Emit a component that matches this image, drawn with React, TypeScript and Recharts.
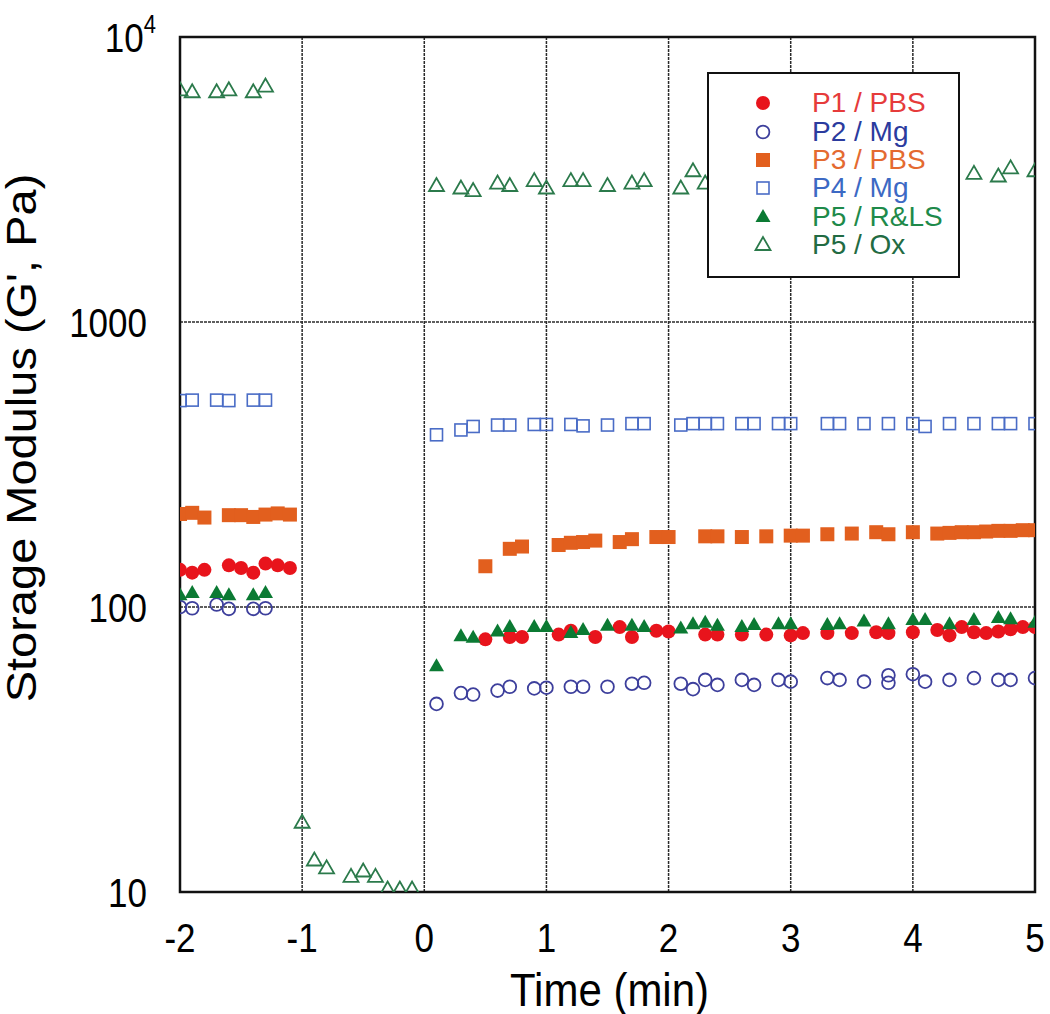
import {
  CartesianGrid,
  Label,
  ReferenceArea,
  Scatter,
  ScatterChart,
  XAxis,
  YAxis,
} from 'recharts'

const font = "'Liberation Sans', Arial, Helvetica, sans-serif"

// time axis and G' axis
const timeTicks = [-2, -1, 0, 1, 2, 3, 4, 5]
const modulusTicks = [10, 100, 1000, 10000]

// P1 / PBS
const p1Time = [-2.0, -1.9, -1.8, -1.6, -1.5, -1.4, -1.3, -1.2, -1.1, 0.5, 0.7, 0.8, 1.1, 1.2, 1.4, 1.6, 1.7, 1.9, 2.0, 2.3, 2.4, 2.6, 2.8, 3.0, 3.1, 3.3, 3.5, 3.7, 3.8, 4.0, 4.2, 4.3, 4.4, 4.5, 4.6, 4.7, 4.8, 4.9, 5.0]
const p1G = [135, 132, 135, 140, 137, 132, 142, 140, 137, 77, 78.5, 78.5, 80, 82.5, 78.5, 85, 78.5, 82.5, 82, 80, 80, 80, 80, 79.5, 81, 81, 81, 81.5, 81, 81.5, 83, 79.5, 85, 81.5, 81, 82, 83.5, 85, 85]

// P2 / Mg
const p2Time = [-2.0, -1.9, -1.7, -1.6, -1.4, -1.3, 0.1, 0.3, 0.4, 0.6, 0.7, 0.9, 1.0, 1.2, 1.3, 1.5, 1.7, 1.8, 2.1, 2.2, 2.3, 2.4, 2.6, 2.7, 2.9, 3.0, 3.3, 3.4, 3.6, 3.8, 3.8, 4.0, 4.1, 4.3, 4.5, 4.7, 4.8, 5.0]
const p2G = [100, 99, 102, 98.5, 98.5, 99, 45.7, 49.9, 49.3, 50.9, 52.5, 51.8, 52.1, 52.5, 52.5, 52.5, 53.8, 54.2, 53.8, 51.5, 55.5, 53.3, 55.5, 53.3, 55.5, 54.7, 56.3, 55.5, 54.7, 57.6, 54.2, 58.1, 54.7, 55.5, 56.3, 55.5, 55.5, 56.3]

// P3 / PBS
const p3Time = [-2.0, -1.9, -1.8, -1.6, -1.5, -1.4, -1.3, -1.2, -1.1, 0.5, 0.7, 0.8, 1.1, 1.2, 1.3, 1.4, 1.6, 1.7, 1.9, 2.0, 2.3, 2.4, 2.6, 2.8, 3.0, 3.1, 3.3, 3.5, 3.7, 3.8, 4.0, 4.2, 4.3, 4.4, 4.5, 4.6, 4.7, 4.8, 4.9, 5.0]
const p3G = [212, 214, 206, 210, 210, 207, 211, 213, 211, 139, 160, 163, 165, 168, 169, 171, 169, 173, 176, 176, 177, 177, 176, 177, 178, 178, 180, 181, 183, 180, 183, 181, 182, 183, 183, 184, 185, 185, 186, 186]

// P4 / Mg
const p4Time = [-2.0, -1.9, -1.7, -1.6, -1.4, -1.3, 0.1, 0.3, 0.4, 0.6, 0.7, 0.9, 1.0, 1.2, 1.3, 1.5, 1.7, 1.8, 2.1, 2.2, 2.3, 2.4, 2.6, 2.7, 2.9, 3.0, 3.3, 3.4, 3.6, 3.8, 4.0, 4.1, 4.3, 4.5, 4.7, 4.8, 5.0]
const p4G = [530, 532, 532, 530, 532, 532, 402, 418, 430, 435, 435, 437, 437, 437, 432, 435, 440, 440, 435, 440, 440, 440, 440, 440, 440, 440, 440, 440, 440, 440, 440, 430, 440, 440, 440, 440, 440]

// P5 / R&LS
const p5rTime = [-2.0, -1.9, -1.7, -1.6, -1.4, -1.3, 0.1, 0.3, 0.4, 0.6, 0.7, 0.9, 1.0, 1.2, 1.3, 1.5, 1.7, 1.8, 2.1, 2.2, 2.3, 2.4, 2.6, 2.7, 2.9, 3.0, 3.3, 3.4, 3.6, 3.8, 4.0, 4.1, 4.3, 4.5, 4.7, 4.8, 5.0]
const p5rG = [110, 112, 112, 110, 110, 112, 62, 79, 78, 82, 85, 85, 85, 81, 83, 86, 86, 85, 84, 87, 88, 86, 85, 86.5, 87, 87, 86.5, 87, 89, 87, 90, 90, 87, 90, 91.5, 90.5, 88]

// P5 / Ox
const p5oTime = [-2.0, -1.9, -1.7, -1.6, -1.4, -1.3, -1.0, -0.9, -0.8, -0.6, -0.5, -0.4, -0.3, -0.2, -0.1, 0.1, 0.3, 0.4, 0.6, 0.7, 0.9, 1.0, 1.2, 1.3, 1.5, 1.7, 1.8, 2.1, 2.2, 2.3, 4.5, 4.7, 4.8, 5.0]
const p5oG = [6500, 6400, 6400, 6500, 6400, 6700, 17.5, 12.9, 12.1, 11.3, 11.8, 11.3, 10.2, 10.2, 10.2, 3000, 2940, 2880, 3060, 3000, 3120, 2940, 3120, 3120, 3000, 3060, 3120, 2940, 3380, 3060, 3310, 3240, 3460, 3380]

function pairs(time: number[], g: number[]) {
  return time.map((t, i) => ({ t, g: g[i] }))
}

type Kind = 'dot' | 'ring' | 'square' | 'box' | 'tri' | 'opentri'

function Marker({ cx, cy, kind, color }: { cx: number; cy: number; kind: Kind; color: string }) {
  if (kind === 'dot') return <circle cx={cx} cy={cy} r={7} fill={color} />
  if (kind === 'ring') return <circle cx={cx} cy={cy} r={6.4} fill="none" stroke={color} strokeWidth={1.8} />
  if (kind === 'square') return <rect x={cx - 7} y={cy - 7} width={14} height={14} fill={color} />
  if (kind === 'box') return <rect x={cx - 6} y={cy - 6} width={12} height={12} fill="none" stroke={color} strokeWidth={1.6} />
  const pts = `${cx},${cy - 8} ${cx - 7.5},${cy + 5} ${cx + 7.5},${cy + 5}`
  if (kind === 'tri') return <polygon points={pts} fill={color} />
  return <polygon points={pts} fill="none" stroke={color} strokeWidth={1.8} strokeLinejoin="miter" />
}

const series = [
  { name: 'P1 / PBS', kind: 'dot' as Kind, color: '#e8141c', text: '#e63b3b', data: pairs(p1Time, p1G) },
  { name: 'P2 / Mg', kind: 'ring' as Kind, color: '#3d3f9c', text: '#2b3b9e', data: pairs(p2Time, p2G) },
  { name: 'P3 / PBS', kind: 'square' as Kind, color: '#e25f1e', text: '#e46a30', data: pairs(p3Time, p3G) },
  { name: 'P4 / Mg', kind: 'box' as Kind, color: '#4a6cc6', text: '#3c69c4', data: pairs(p4Time, p4G) },
  { name: 'P5 / R&LS', kind: 'tri' as Kind, color: '#0b7a33', text: '#1e8a4a', data: pairs(p5rTime, p5rG) },
  { name: 'P5 / Ox', kind: 'opentri' as Kind, color: '#2b7a4b', text: '#226b43', data: pairs(p5oTime, p5oG) },
]

// the source figure is stretched a little vertically, so the texts are too
const stretch = 1.18
const tickSize = 35

function XTick({ x, y, payload }: any) {
  return (
    <g transform={`translate(${x},${y}) scale(1,${stretch})`}>
      <text x={0} y={tickSize * 0.72} textAnchor="middle" fontSize={tickSize} fontFamily={font} fill="#000">
        {payload.value}
      </text>
    </g>
  )
}

function YTick({ x, y, payload }: any) {
  const sup = payload.value === 10000
  return (
    <g transform={`translate(${x},${y}) scale(1,${stretch})`}>
      <text x={sup ? 9 : 0} y={0} textAnchor="end" dominantBaseline="central" fontSize={tickSize} fontFamily={font} fill="#000">
        {sup ? (
          <>
            10<tspan dy={-12} fontSize={22}>4</tspan>
          </>
        ) : (
          payload.value
        )}
      </text>
    </g>
  )
}

function XTitle({ viewBox }: any) {
  const cx = viewBox.x + viewBox.width / 2 + 2
  return (
    <g transform={`translate(${cx},1006) scale(1,1.1)`}>
      <text x={0} y={0} textAnchor="middle" fontSize={42} fontFamily={font} fill="#000">
        Time (min)
      </text>
    </g>
  )
}

function YTitle() {
  return (
    <g transform={`translate(36,438) rotate(-90) scale(1,${1 / (stretch - 0.05)})`}>
      <text x={0} y={0} textAnchor="middle" fontSize={47} fontFamily={font} fill="#000">
        Storage Modulus (G', Pa)
      </text>
    </g>
  )
}

function LegendBox() {
  return (
    <div
      style={{
        position: 'absolute',
        left: 707,
        top: 72,
        width: 253,
        height: 206,
        boxSizing: 'border-box',
        border: '2.5px solid #111',
        background: '#fff',
        paddingTop: 15,
        fontFamily: font,
      }}
    >
      {series.map((s) => (
        <div key={s.name} style={{ height: 28.4, display: 'flex', alignItems: 'center' }}>
          <svg width={30} height={28} style={{ marginLeft: 39 }}>
            <Marker cx={15} cy={14} kind={s.kind} color={s.color} />
          </svg>
          <span style={{ marginLeft: 34, fontSize: 28, lineHeight: '26px', color: s.text }}>{s.name}</span>
        </div>
      ))}
    </div>
  )
}

export default function App() {
  return (
    <div style={{ position: 'absolute', left: 0, top: 0, width: 1050, height: 1014, background: '#fff' }}>
      <ScatterChart width={1050} height={1014} margin={{ top: 37, right: 15, bottom: 0, left: 0 }}>
        <CartesianGrid stroke="#2a2a2a" strokeWidth={1.5} strokeDasharray="3 1" />
        <XAxis
          type="number"
          dataKey="t"
          domain={[-2, 5]}
          ticks={timeTicks}
          height={122}
          axisLine={false}
          tickLine={false}
          tickSize={0}
          tickMargin={30}
          tick={<XTick />}
          allowDataOverflow
        >
          <Label content={<XTitle />} />
        </XAxis>
        <YAxis
          type="number"
          dataKey="g"
          scale="log"
          domain={[10, 10000]}
          ticks={modulusTicks}
          width={180}
          axisLine={false}
          tickLine={false}
          tickSize={0}
          tickMargin={33}
          tick={<YTick />}
          allowDataOverflow
        >
          <Label content={<YTitle />} />
        </YAxis>
        <ReferenceArea x1={-2} x2={5} y1={10} y2={10000} fill="none" stroke="#111" strokeWidth={2.5} />
        {series.map((s) => (
          <Scatter
            key={s.name}
            name={s.name}
            data={s.data}
            isAnimationActive={false}
            shape={(p: any) => <Marker cx={p.cx} cy={p.cy} kind={s.kind} color={s.color} />}
          />
        ))}
      </ScatterChart>
      <LegendBox />
    </div>
  )
}
